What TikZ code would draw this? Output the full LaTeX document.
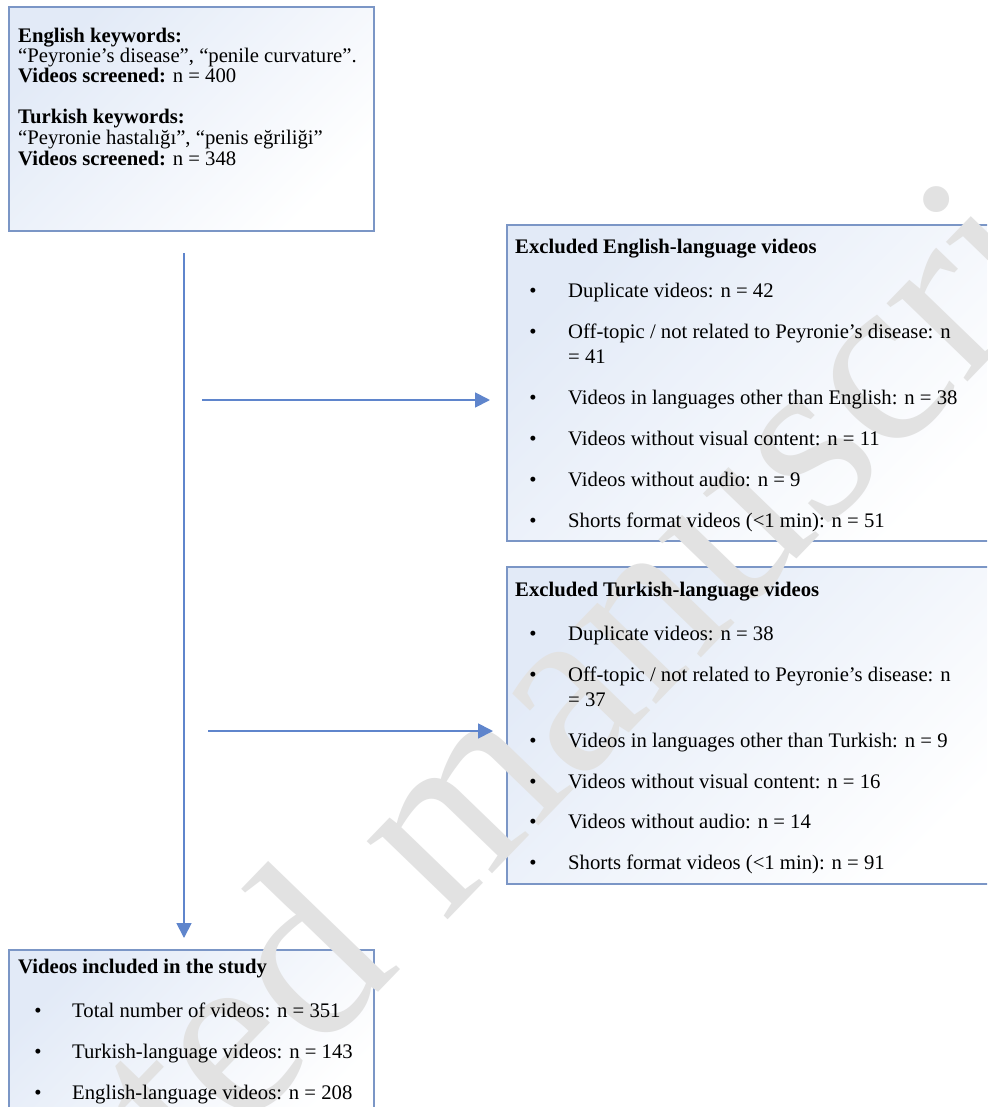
\documentclass[tikz,border=0pt]{standalone}
\usepackage{fontspec}
\setmainfont{Liberation Serif}
\usetikzlibrary{arrows.meta}
\definecolor{edge}{HTML}{7B96C6}
\definecolor{arr}{HTML}{5F85CC}
\definecolor{fillb}{HTML}{E2EAF7}
\definecolor{wm}{HTML}{E2E2E2}
\begin{document}
\begin{tikzpicture}[x=1pt,y=-1pt,
  box/.style={draw=edge, line width=2pt, top color=fillb, bottom color=white, shading angle=45, anchor=north west, inner sep=0pt, outer sep=0pt},
  txt/.style={anchor=base west, inner sep=0pt, font=\fontsize{20.7}{24}\selectfont},
  ttl/.style={anchor=base west, inner sep=0pt, font=\fontsize{20.7}{24}\selectfont\bfseries},
  bul/.style={anchor=base, inner sep=0pt, font=\fontsize{20.7}{24}\selectfont},
  conn/.style={draw=arr, line width=1.8pt, -{Triangle[length=15pt,width=15pt]}},
]
\useasboundingbox (0,0) rectangle (987,1107);
\clip (0,0) rectangle (987,1107);
\fill[white] (0,0) rectangle (987,1107);

% boxes
\node[box, minimum width=365pt, minimum height=224pt] (b1) at (9,7) {};
\node[box, minimum width=500pt, minimum height=316pt] (b2) at (507,225) {};
\node[box, minimum width=500pt, minimum height=317pt] (b4) at (507,567) {};
\node[box, minimum width=365pt, minimum height=180pt] (b5) at (9,950) {};

% watermark
\node[rotate=46, text=wm, inner sep=0pt, font=\fontsize{245}{245}\selectfont] (wmk) at (438,846) {Accepted manuscript};

% connectors
\coordinate (v0) at (184,253);
\coordinate (v1) at (184,938);
\coordinate (h1s) at (202,400);
\coordinate (h1e) at (490,400);
\coordinate (h2s) at (208,731);
\coordinate (h2e) at (493,731);
\draw[conn] (v0) -- (v1);
\draw[conn] (h1s) -- (h1e);
\draw[conn] (h2s) -- (h2e);

% box 1 text
\node[ttl] (a1) at (18,43) {English keywords:};
\node[txt] (a2) at (18,63) {“Peyronie’s disease”, “penile curvature”.};
\node[txt] (a3) at (18,83) {\textbf{Videos screened:} n = 400};
\node[ttl] (a4) at (18,124) {Turkish keywords:};
\node[txt] (a5) at (18,145) {“Peyronie hastalığı”, “penis eğriliği”};
\node[txt] (a6) at (18,166) {\textbf{Videos screened:} n = 348};

% box 2 text
\node[ttl] (e0) at (515,253) {Excluded English-language videos};
\foreach \y/\t [count=\i] in {297/{Duplicate videos: n = 42},338/{Off-topic / not related to Peyronie’s disease: n},404/{Videos in languages other than English: n = 38},445/{Videos without visual content: n = 11},486/{Videos without audio: n = 9},527/{Shorts format videos (<1 min): n = 51}}{
  \node[bul] (eb\i) at (533,\y) {•};
  \node[txt] (et\i) at (568,\y) {\t};
}
\node[txt] (et2b) at (568,363) {= 41};

% box 4 text
\node[ttl] (k0) at (515,596) {Excluded Turkish-language videos};
\foreach \y/\t [count=\i] in {640/{Duplicate videos: n = 38},681/{Off-topic / not related to Peyronie’s disease: n},747/{Videos in languages other than Turkish: n = 9},788/{Videos without visual content: n = 16},828/{Videos without audio: n = 14},869/{Shorts format videos (<1 min): n = 91}}{
  \node[bul] (kb\i) at (533,\y) {•};
  \node[txt] (kt\i) at (568,\y) {\t};
}
\node[txt] (kt2b) at (568,706) {= 37};

% box 5 text
\node[ttl] (i0) at (18,973) {Videos included in the study};
\foreach \y/\t [count=\i] in {1017/{Total number of videos: n = 351},1058/{Turkish-language videos: n = 143},1099/{English-language videos: n = 208}}{
  \node[bul] (ib\i) at (38,\y) {•};
  \node[txt] (it\i) at (72,\y) {\t};
}
\end{tikzpicture}
\end{document}
